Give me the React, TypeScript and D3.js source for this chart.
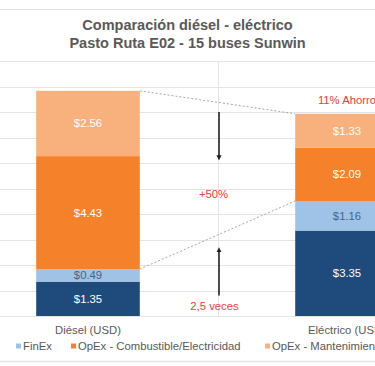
import React from 'react';
import * as d3 from 'd3';

// chart data
const categories = ['Diésel (USD)', 'Eléctrico (USD)'];
const capex = [1.35, 3.35];
const finex = [0.49, 1.16];
const opexFuel = [4.43, 2.09];
const opexMaint = [2.56, 1.33];
const seriesNames = ['CapEx', 'FinEx', 'OpEx - Combustible/Electricidad', 'OpEx - Mantenimiento'];
const yTicks = [0, 1, 2, 3, 4, 5, 6, 7, 8, 9, 10];
const titleLines = ['Comparación diésel - eléctrico', 'Pasto Ruta E02 - 15 buses Sunwin'];

const width = 375;
const height = 366;
const font = '"Liberation Sans", Arial, sans-serif';
const colors = ['#1f4b7c', '#9fc3e7', '#f5822a', '#f8b17c'];
const labelColors = ['#ffffff', '#4a6380', '#ffffff', '#ffffff'];
const red = '#e8403a';

function App() {
    const rows = categories.map((c, i) => ({
        cat: c,
        [seriesNames[0]]: capex[i],
        [seriesNames[1]]: finex[i],
        [seriesNames[2]]: opexFuel[i],
        [seriesNames[3]]: opexMaint[i],
    }));
    const stacked = d3.stack<any>().keys(seriesNames)(rows);

    const x = d3.scaleBand().domain(categories).range([-41.5, 476.5]).paddingInner(0.6).paddingOuter(0.3);
    const y = d3.scaleLinear().domain([0, 10]).range([316, 61]);
    const bw = x.bandwidth();
    const x0 = x(categories[0])!;
    const x1 = x(categories[1])!;
    const mid = x0 + bw + (x.step() * x.paddingInner()) / 2;

    const totals = categories.map((_, i) => capex[i] + finex[i] + opexFuel[i] + opexMaint[i]);
    const lowTotals = categories.map((_, i) => capex[i] + finex[i]);

    const legendX = [16, 71, 265];

    return (
        <svg width={width} height={height} style={{ position: 'absolute', left: 0, top: 0, background: '#fff' }}
            fontFamily={font}>
            <defs>
                <marker id="ah" viewBox="0 0 10 10" refX="5" refY="5" markerWidth="3.2" markerHeight="3.2" orient="auto-start-reverse">
                    <path d="M0,0 L10,5 L0,10 z" fill="#222" />
                </marker>
            </defs>
            <line x1={0} x2={width} y1={9.5} y2={9.5} stroke="#e3e3e3" />
            {titleLines.map((t, i) => (
                <text key={t} x={width / 2} y={30 + i * 17.5} textAnchor="middle" fontSize={14.5} fontWeight="bold" fill="#595959">{t}</text>
            ))}
            {yTicks.map(t => (
                <line key={t} x1={0} x2={width} y1={Math.round(y(t)) + 0.5} y2={Math.round(y(t)) + 0.5} stroke="#e4e4e4" />
            ))}
            <line x1={Math.round(mid) + 0.5} x2={Math.round(mid) + 0.5} y1={y(10)} y2={y(0)} stroke="#e4e4e4" />

            {stacked.map((s, si) => (
                <g key={s.key}>
                    {s.map((d, i) => {
                        const top = y(d[1]);
                        const bot = y(d[0]);
                        return (
                            <g key={i}>
                                <rect x={x(categories[i])} y={top} width={bw} height={bot - top} fill={colors[si]} />
                                <text x={x(categories[i])! + bw / 2} y={(top + bot) / 2 + 4} textAnchor="middle"
                                    fontSize={11.3} fill={labelColors[si]}>${(d[1] - d[0]).toFixed(2)}</text>
                            </g>
                        );
                    })}
                </g>
            ))}

            {/* dotted connectors */}
            <line x1={x0 + bw} y1={y(totals[0])} x2={x1} y2={y(totals[1])} stroke="#a6a6a6" strokeDasharray="2,2" />
            <line x1={x0 + bw} y1={y(lowTotals[0])} x2={x1} y2={y(lowTotals[1])} stroke="#a6a6a6" strokeDasharray="2,2" />

            {/* arrows */}
            <line x1={mid + 1.5} x2={mid + 1.5} y1={y(8)} y2={y(6.2)} stroke="#222" strokeWidth={1.6} markerEnd="url(#ah)" />
            <line x1={mid + 1.5} x2={mid + 1.5} y1={y(0.8)} y2={y(2.6)} stroke="#222" strokeWidth={1.6} markerEnd="url(#ah)" />
            <text x={mid - 4} y={y(4.63)} textAnchor="middle" fontSize={11.3} fill={red}>+50%</text>
            <text x={mid - 3} y={y(0.24)} textAnchor="middle" fontSize={11.3} fill={red}>2,5 veces</text>
            <text x={x1 + bw / 2} y={y(8.3)} textAnchor="middle" fontSize={11.3} fill={red}>11% Ahorro</text>

            {categories.map(c => (
                <text key={c} x={x(c)! + bw / 2} y={334} textAnchor="middle" fontSize={11.3} fill="#595959">{c}</text>
            ))}

            {seriesNames.slice(1).map((n, i) => (
                <g key={n} transform={`translate(${legendX[i]},346)`}>
                    <rect x={0} y={-2.5} width={5} height={5} fill={colors[i + 1]} />
                    <text x={7} y={4} fontSize={11.3} fill="#595959">{n}</text>
                </g>
            ))}
            <line x1={0} x2={width} y1={361.5} y2={361.5} stroke="#e6e6e6" strokeWidth={1.5} />
        </svg>
    );
}

export default App;
